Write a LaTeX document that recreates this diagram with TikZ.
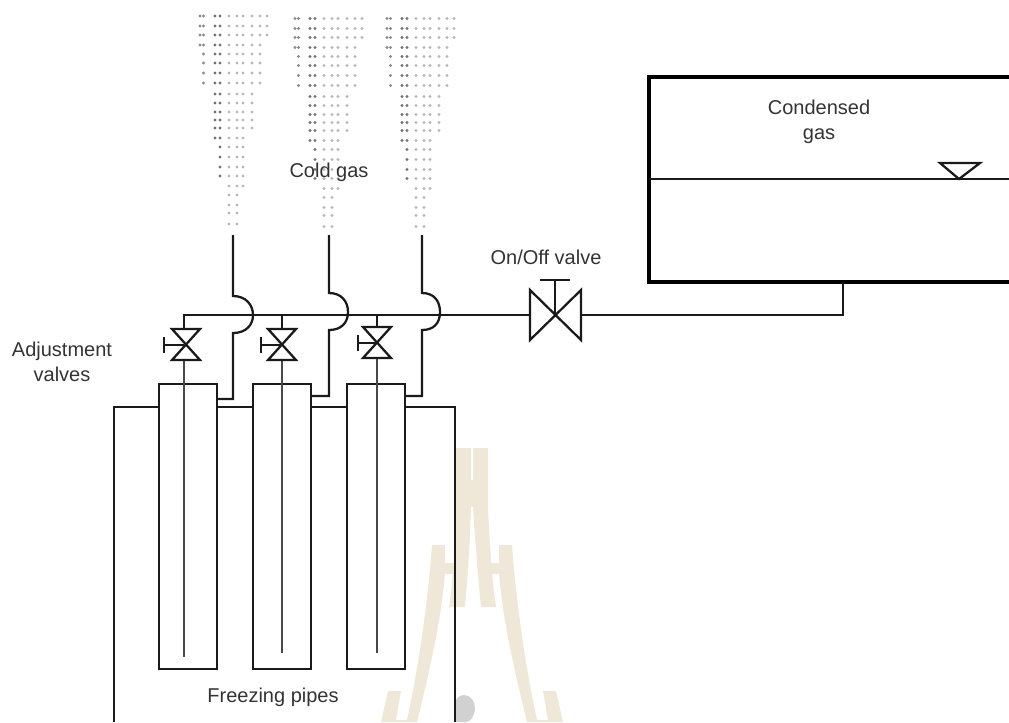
\documentclass[tikz,border=0pt]{standalone}
\usepackage{fontspec}
\setmainfont{Liberation Sans}
\definecolor{wm}{HTML}{EFE7D8}
\definecolor{ink}{HTML}{1A1A1A}
\definecolor{txt}{HTML}{333333}
\tikzset{
  pipe/.style={draw=ink,line width=1.7pt,line join=miter},
  thinpipe/.style={draw=ink!80,line width=1.6pt},
  tank/.style={draw=black,line width=3.4pt,line cap=butt},
  lbl/.style={text=txt,font=\fontsize{15}{18.75}\selectfont,align=center,inner sep=0pt},
}
\newcommand{\dotrow}[4]{% y, first col idx, last col idx, offset
  \foreach \cx/\cg [count=\ci] in {200/45,203.5/45,215/55,220/55,229/28,237/28,243/28,252/28,260/28,267/28}{
    \ifnum\ci<#2\relax\else\ifnum\ci>#3\relax\else
      \fill[black!\cg] (\cx+#4,#1) circle (1.25pt);
    \fi\fi
  }
}
\newcommand{\plume}[2]{%
  \foreach \ry/\ra/\rb in {16/1/10,26/1/10,35/1/10,45/1/9,54/2/9,63/2/9,73/2/9,83/2/9,94/3/8,103/3/8,112/3/8,120/3/8,128/3/8,138/3/7,147/4/7,157/4/7,167/4/7,176/4/7,186/5/7,195/5/6,205/5/6,213/5/6,224/5/6}{
    \dotrow{\ry+#2}{\ra}{\rb}{#1}
  }
}
\begin{document}
\begin{tikzpicture}[x=0.75pt,y=-0.75pt]
\useasboundingbox (0,0) rectangle (1009,722);
\clip (0,0) rectangle (1009,722);
% watermark: centre
\fill[wm] (455,448) -- (471,448) -- (471,480) -- (473,480) -- (473,448) -- (488,448) -- (488,507)
  .. controls (490,550) and (492,580) .. (496,607) -- (481,607)
  .. controls (478,575) and (475,540) .. (473,507) -- (471,507)
  .. controls (470,540) and (468,575) .. (465,607) -- (449,607)
  .. controls (453,580) and (455,550) .. (455,507) -- cycle;
% watermark: right wing
\fill[wm] (499,545) -- (512,545) .. controls (516,600) and (525,665) .. (537,720) -- (548,720) -- (543,691) -- (556,691) -- (563,722) -- (527,722)
  .. controls (513,665) and (503,620) .. (499,574) -- (490,574) -- (490,563) -- (499,563) -- cycle;
% watermark: left wing
\fill[wm] (445,545) -- (432,545) .. controls (428,600) and (419,665) .. (407,720) -- (396,720) -- (401,691) -- (388,691) -- (381,722) -- (417,722)
  .. controls (431,665) and (441,620) .. (445,574) -- (454,574) -- (454,563) -- (445,563) -- cycle;
\fill[black!18] (455,722) -- (455,705) .. controls (455,698) and (460,695) .. (464,695) .. controls (471,695) and (475,702) .. (475,708) .. controls (475,716) and (470,722) .. (466,722) -- cycle;
% plumes
\plume{0}{0}
\plume{95}{2.5}
\plume{187}{2.5}
% tank
\draw[tank] (1009,77) -- (649,77) -- (649,282) -- (1009,282);
\coordinate (levelL) at (649,179);
\coordinate (levelR) at (1009,179);
\draw[pipe] (levelL) -- (levelR);
\draw[pipe] (940,163) -- (980,163) -- (959,179) -- cycle;
% outer box
\draw[pipe] (159,407) -- (114,407) -- (114,722);
\draw[pipe] (405,407) -- (455,407) -- (455,722);
\draw[pipe] (217,407) -- (253,407);
\draw[pipe] (311,407) -- (347,407);
% freezing pipes
\draw[pipe] (159,384) rectangle (217,669);
\draw[pipe] (253,384) rectangle (311,669);
\draw[pipe] (347,384) rectangle (405,669);
% main line
\draw[pipe] (184,329) -- (184,315) -- (530,315);
\draw[pipe] (282,315) -- (282,329);
\draw[pipe] (377,315) -- (377,327);
\draw[pipe] (581,315) -- (843,315) -- (843,282);
% inner tubes
\draw[thinpipe] (184,360) -- (184,657);
\draw[thinpipe] (282,360) -- (282,653);
\draw[thinpipe] (377,358) -- (377,653);
% adjustment valves
\draw[pipe] (172,329) -- (200,329) -- (172,360) -- (200,360) -- cycle;
\draw[pipe] (164,345) -- (184,345) (164,337) -- (164,353);
\draw[pipe] (268,329) -- (296,329) -- (268,360) -- (296,360) -- cycle;
\draw[pipe] (261,345) -- (282,345) (261,337) -- (261,353);
\draw[pipe] (363,327) -- (391,327) -- (363,358) -- (391,358) -- cycle;
\draw[pipe] (358,343) -- (377,343) (358,335) -- (358,351);
% on/off valve
\draw[pipe] (530,290) -- (581,340) -- (581,290) -- (530,340) -- cycle;
\draw[pipe] (555,315) -- (555,280) (540,280) -- (570,280);
% gas lines
\draw[pipe] (217,399) -- (233,399) -- (233,333) .. controls (246,333) and (253,325) .. (253,315) .. controls (253,305) and (246,296) .. (233,296) -- (233,235);
\draw[pipe] (311,396) -- (329,396) -- (329,330) .. controls (341,330) and (348,323) .. (348,312) .. controls (348,301) and (341,293) .. (329,293) -- (329,235);
\draw[pipe] (405,396) -- (422,396) -- (422,330) .. controls (434,330) and (440,323) .. (440,312) .. controls (440,301) and (434,293) .. (422,293) -- (422,235);
% labels
\node[lbl] (cold) at (329,172) {Cold gas};
\node[lbl] (cond) at (819,122) {Condensed\\gas};
\node[lbl] (onoff) at (546,257) {On/Off valve};
\node[lbl] (adj) at (62,362) {Adjustment\\valves};
\node[lbl] (freeze) at (273,697) {Freezing pipes};
\end{tikzpicture}
\end{document}
